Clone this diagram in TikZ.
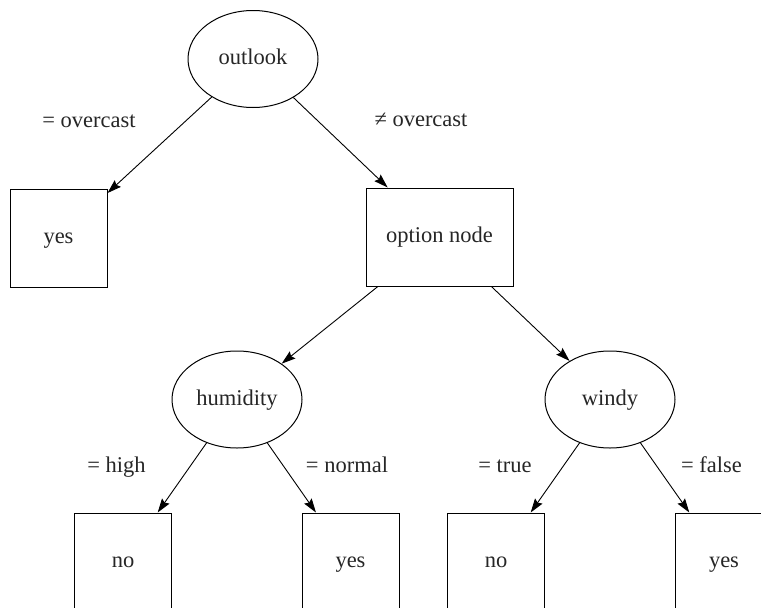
\documentclass[tikz,border=0pt]{standalone}
\usepackage{fontspec}
\setmainfont{Liberation Serif}
\usetikzlibrary{shapes.geometric,arrows.meta}
\begin{document}
\begin{tikzpicture}[x=1pt,y=-1pt,
  every node/.style={font=\fontsize{22.5}{27}\selectfont, text=black!85, text height=14pt, text depth=3pt},
  attr/.style={draw, ellipse, line width=1pt, inner sep=0pt, minimum width=130pt, minimum height=97pt},
  leaf/.style={draw, rectangle, line width=1pt, inner sep=0pt, minimum width=97pt, minimum height=98pt},
  optbox/.style={draw, rectangle, line width=1pt, inner sep=0pt, minimum width=147pt, minimum height=98pt},
  branch/.style={-{Stealth[length=14pt,width=9pt,inset=2pt]}, line width=0.9pt},
  lab/.style={inner sep=0pt}]
\useasboundingbox (0,0) rectangle (761,608);
\clip (0,0) rectangle (761,608);
\node[attr] (outlook) at (253,59) {outlook};
\node[leaf] (yes1) at (58.5,238) {yes};
\node[optbox] (option) at (439.5,237) {option node};
\node[attr] (humidity) at (237,399.5) {humidity};
\node[attr] (windy) at (610,399.5) {windy};
\node[leaf] (no1) at (123,562) {no};
\node[leaf] (yes2) at (350.5,562) {yes};
\node[leaf] (no2) at (496,562) {no};
\node[leaf] (yes3) at (724,562) {yes};
\node[lab] (l1) at (89,121.5) {= overcast};
\node[lab] (l2) at (421,120.5) {≠ overcast};
\node[lab] (l3) at (116.5,466.5) {= high};
\node[lab] (l4) at (347,466.5) {= normal};
\node[lab] (l5) at (505,466.5) {= true};
\node[lab] (l6) at (711.5,466.5) {= false};
\draw[branch] (outlook) -- (yes1);
\draw[branch] (outlook) -- (option);
\draw[branch] (option) -- (humidity);
\draw[branch] (option) -- (windy);
\draw[branch] (humidity) -- (no1);
\draw[branch] (humidity) -- (yes2);
\draw[branch] (windy) -- (no2);
\draw[branch] (windy) -- (yes3);
\end{tikzpicture}
\end{document}
